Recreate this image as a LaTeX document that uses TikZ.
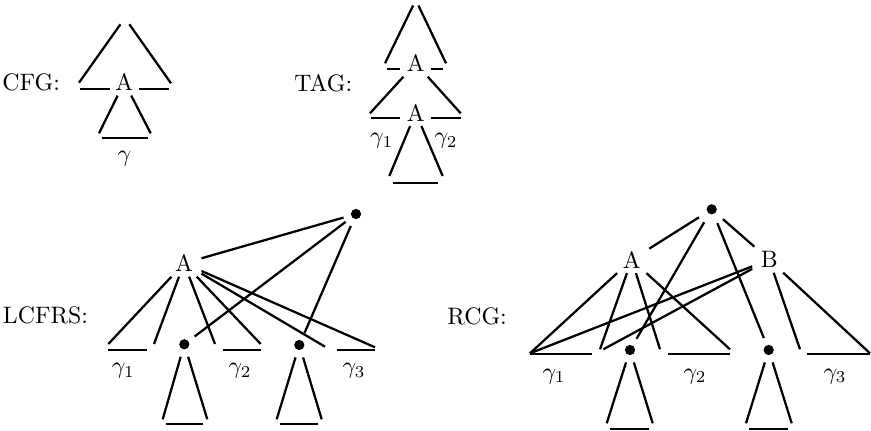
\documentclass[tikz,border=0pt]{standalone}
\begin{document}
\begin{tikzpicture}[x=0.42pt,y=-0.42pt,
  ln/.style={line width=0.95pt},
  nt/.style={inner xsep=3.4pt,inner ysep=1.85pt},
  dotnode/.style={circle,fill,inner sep=0pt,minimum size=4.3pt,outer sep=#1},
  dotnode/.default=3.3pt,
  apex/.style={circle,inner sep=0pt,minimum size=#1},
  lab/.style={inner sep=0pt,anchor=base},
  ttl/.style={inner sep=0pt,anchor=base west}]
\useasboundingbox (0,0) rectangle (871,431);

% ---------------- CFG ----------------
\node[ttl] (tcfg) at (2,91) {CFG:};
\node[apex=6.1pt] (cApex) at (124.9,18) {};
\node[nt] (cA) at (124.3,82.2) {A};
\coordinate (c1) at (79,82.7);
\coordinate (c2) at (171,83.3);
\coordinate (cb1) at (80,88.7);  \coordinate (cb2) at (110,88.7);
\coordinate (cb3) at (139.3,88.7); \coordinate (cb4) at (169.3,88.7);
\coordinate (c3) at (99,133.3);
\coordinate (c4) at (150.7,133.3);
\coordinate (cb5) at (101.7,138.3); \coordinate (cb6) at (147.7,138.3);
\draw[ln] (cApex) -- (c1);
\draw[ln] (cApex) -- (c2);
\draw[ln] (cb1) -- (cb2);
\draw[ln] (cb3) -- (cb4);
\draw[ln] (cA) -- (c3);
\draw[ln] (cA) -- (c4);
\draw[ln] (cb5) -- (cb6);
\node[lab] (cg) at (124.5,162) {$\gamma$};

% ---------------- TAG ----------------
\node[ttl] (ttag) at (294,91.5) {TAG:};
\node[apex=4.7pt] (tApex) at (415.8,0) {};
\node[nt] (tA1) at (415.7,63.3) {A};
\node[nt] (tA2) at (415.7,112.7) {A};
\coordinate (t1) at (385,63.3);
\coordinate (t2) at (446,63.3);
\coordinate (tb1) at (387.3,69.3); \coordinate (tb2) at (400,69.3);
\coordinate (tb3) at (430.7,69.3); \coordinate (tb4) at (443.3,69.3);
\coordinate (t3) at (370,113.3);
\coordinate (t4) at (460.7,113.3);
\coordinate (tb5) at (370.7,118.3); \coordinate (tb6) at (400,118.3);
\coordinate (tb7) at (430.7,118.3); \coordinate (tb8) at (460.7,118.3);
\coordinate (t5) at (389.3,176);
\coordinate (t6) at (442.7,176);
\coordinate (tb9) at (392.7,182.7); \coordinate (tb10) at (438.3,182.7);
\draw[ln] (tApex) -- (t1);
\draw[ln] (tApex) -- (t2);
\draw[ln] (tb1) -- (tb2);
\draw[ln] (tb3) -- (tb4);
\draw[ln] (tA1) -- (t3);
\draw[ln] (tA1) -- (t4);
\draw[ln] (tb5) -- (tb6);
\draw[ln] (tb7) -- (tb8);
\draw[ln] (tA2) -- (t5);
\draw[ln] (tA2) -- (t6);
\draw[ln] (tb9) -- (tb10);
\node[lab] (tg1) at (381.7,144) {$\gamma_1$};
\node[lab] (tg2) at (446,144) {$\gamma_2$};

% ---------------- LCFRS ----------------
\node[ttl] (tlcfrs) at (2.5,323.5) {LCFRS:};
\node[dotnode] (lTop) at (356,214) {};
\node[nt] (lA) at (184,263.3) {A};
\node[dotnode] (ld1) at (184.3,344.3) {};
\node[dotnode] (ld2) at (299.3,345) {};
\draw[ln] (lA) -- (lTop);
\draw[ln] (lTop) -- (ld1);
\draw[ln] (lTop) -- (ld2);
\coordinate (l1) at (108.3,344);
\coordinate (l2) at (154,344);
\coordinate (l3) at (215,344);
\coordinate (l4) at (260.7,344);
\coordinate (l5) at (325,346.7);
\coordinate (l6) at (375,347.3);
\foreach \p in {l1,l2,l3,l4,l5,l6} {\draw[ln] (lA) -- (\p);}
\coordinate (lb1) at (108.3,350); \coordinate (lb2) at (146.7,350);
\coordinate (lb3) at (223.3,350); \coordinate (lb4) at (260.7,350);
\coordinate (lb5) at (337.3,350); \coordinate (lb6) at (375,350);
\draw[ln] (lb1) -- (lb2);
\draw[ln] (lb3) -- (lb4);
\draw[ln] (lb5) -- (lb6);
\node[lab] (lg1) at (123.3,374) {$\gamma_1$};
\node[lab] (lg2) at (240,374) {$\gamma_2$};
\node[lab] (lg3) at (354,374) {$\gamma_3$};
\coordinate (l7) at (162.7,419.3); \coordinate (l8) at (207.3,419.3);
\coordinate (l9) at (276.7,419.3); \coordinate (l10) at (321.7,419.3);
\draw[ln] (ld1) -- (l7);
\draw[ln] (ld1) -- (l8);
\draw[ln] (ld2) -- (l9);
\draw[ln] (ld2) -- (l10);
\coordinate (lb7) at (166,424.3); \coordinate (lb8) at (203.3,424.3);
\coordinate (lb9) at (280,424.3); \coordinate (lb10) at (318.3,424.3);
\draw[ln] (lb7) -- (lb8);
\draw[ln] (lb9) -- (lb10);

% ---------------- RCG ----------------
\node[ttl] (trcg) at (447,325) {RCG:};
\node[dotnode=4.15pt] (rTop) at (711.7,209.3) {};
\node[nt] (rA) at (631.7,259.7) {A};
\node[nt] (rB) at (769.2,259.7) {B};
\node[dotnode] (rd1) at (630,350) {};
\node[dotnode] (rd2) at (768.7,350) {};
\draw[ln] (rTop) -- (rA);
\draw[ln] (rTop) -- (rB);
\draw[ln] (rTop) -- (rd1);
\draw[ln] (rTop) -- (rd2);
\coordinate (r1) at (530,353.3);
\coordinate (r2) at (600,349.3);
\coordinate (r3) at (660,349.3);
\coordinate (r4) at (730,349.3);
\coordinate (r5) at (603.3,349.3);
\coordinate (r6) at (800,349.3);
\coordinate (r7) at (870,353.3);
\foreach \p in {r1,r2,r3,r4} {\draw[ln] (rA) -- (\p);}
\foreach \p in {r1,r5,r6,r7} {\draw[ln] (rB) -- (\p);}
\coordinate (rb1) at (530,354); \coordinate (rb2) at (591.7,354);
\coordinate (rb3) at (668.3,354); \coordinate (rb4) at (730,354);
\coordinate (rb5) at (807.3,354); \coordinate (rb6) at (870,354);
\draw[ln] (rb1) -- (rb2);
\draw[ln] (rb3) -- (rb4);
\draw[ln] (rb5) -- (rb6);
\node[lab] (rg1) at (554,379) {$\gamma_1$};
\node[lab] (rg2) at (695,379) {$\gamma_2$};
\node[lab] (rg3) at (835,379) {$\gamma_3$};
\coordinate (r8) at (606.7,423.3); \coordinate (r9) at (652.7,423.3);
\coordinate (r10) at (746,423.3); \coordinate (r11) at (791.7,423.3);
\draw[ln] (rd1) -- (r8);
\draw[ln] (rd1) -- (r9);
\draw[ln] (rd2) -- (r10);
\draw[ln] (rd2) -- (r11);
\coordinate (rb7) at (610,429.3); \coordinate (rb8) at (649.3,429.3);
\coordinate (rb9) at (749.3,429.3); \coordinate (rb10) at (788.3,429.3);
\draw[ln] (rb7) -- (rb8);
\draw[ln] (rb9) -- (rb10);
\end{tikzpicture}
\end{document}
